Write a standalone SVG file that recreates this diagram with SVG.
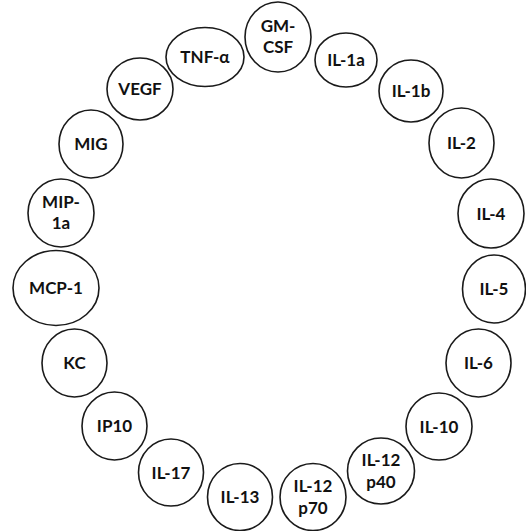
<svg xmlns="http://www.w3.org/2000/svg" width="526" height="531" viewBox="0 0 526 531">
<style>
.n ellipse{fill:#fff;stroke:#1a1a1a;stroke-width:1.6}
.n text{font-family:Lato,"Open Sans","Liberation Sans",sans-serif;font-weight:bold;font-size:17px;fill:#111;text-anchor:middle}
</style>
<rect width="526" height="531" fill="#fff"/>
<g id="connectors"/>
<g id="n-gmcsf" class="n"><ellipse cx="278" cy="37" rx="33" ry="35"/><text x="278" y="32">GM-</text><text x="278" y="53">CSF</text></g>
<g id="n-il1a" class="n"><ellipse cx="346" cy="60" rx="31" ry="27"/><text x="346" y="66">IL-1a</text></g>
<g id="n-tnfa" class="n"><ellipse cx="205" cy="57" rx="39" ry="29.5"/><text x="205" y="63">TNF-α</text></g>
<g id="n-vegf" class="n"><ellipse cx="140" cy="89" rx="33" ry="31"/><text x="140" y="95">VEGF</text></g>
<g id="n-mig" class="n"><ellipse cx="91" cy="144" rx="32" ry="34"/><text x="91" y="150">MIG</text></g>
<g id="n-mip1a" class="n"><ellipse cx="61" cy="213" rx="33" ry="34"/><text x="61" y="208">MIP-</text><text x="61" y="229">1a</text></g>
<g id="n-mcp1" class="n"><ellipse cx="56" cy="288" rx="43" ry="37.5"/><text x="56" y="294">MCP-1</text></g>
<g id="n-kc" class="n"><ellipse cx="74.5" cy="363" rx="32.5" ry="34"/><text x="74.5" y="369">KC</text></g>
<g id="n-ip10" class="n"><ellipse cx="114.5" cy="426" rx="32.5" ry="34"/><text x="114.5" y="432">IP10</text></g>
<g id="n-il17" class="n"><ellipse cx="171" cy="472.5" rx="32.5" ry="33.5"/><text x="171" y="478.5">IL-17</text></g>
<g id="n-il13" class="n"><ellipse cx="240" cy="497" rx="32.5" ry="33.5"/><text x="240" y="503">IL-13</text></g>
<g id="n-il12p70" class="n"><ellipse cx="313" cy="497" rx="33" ry="33.5"/><text x="313" y="492">IL-12</text><text x="313" y="514">p70</text></g>
<g id="n-il12p40" class="n"><ellipse cx="381" cy="471" rx="33.5" ry="33"/><text x="381" y="466">IL-12</text><text x="381" y="488">p40</text></g>
<g id="n-il10" class="n"><ellipse cx="439" cy="426.5" rx="33" ry="33.5"/><text x="439" y="432.5">IL-10</text></g>
<g id="n-il6" class="n"><ellipse cx="478.5" cy="363" rx="32.5" ry="34"/><text x="478.5" y="369">IL-6</text></g>
<g id="n-il5" class="n"><ellipse cx="494" cy="289" rx="31.5" ry="34"/><text x="494" y="295">IL-5</text></g>
<g id="n-il4" class="n"><ellipse cx="491" cy="213.5" rx="33" ry="34.5"/><text x="491" y="219.5">IL-4</text></g>
<g id="n-il2" class="n"><ellipse cx="461.5" cy="143" rx="32.5" ry="35"/><text x="461.5" y="149">IL-2</text></g>
<g id="n-il1b" class="n"><ellipse cx="411" cy="91" rx="32" ry="31"/><text x="411" y="97">IL-1b</text></g>
</svg>
